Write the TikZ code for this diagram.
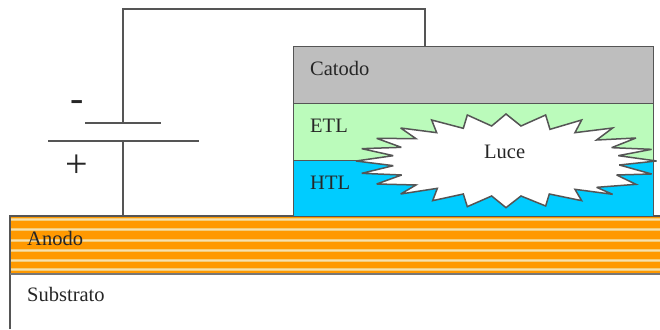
\documentclass[tikz,border=0pt]{standalone}
\usepackage{fontspec}
\setmainfont{Liberation Serif}
\definecolor{catodo}{HTML}{BEBEBE}
\definecolor{etl}{HTML}{BBFBBB}
\definecolor{htl}{HTML}{00CCFF}
\definecolor{anodo}{HTML}{FF9900}
\definecolor{riga}{HTML}{F3CC78}
\definecolor{linea}{HTML}{555555}
\tikzset{
    layer/.style={draw=linea, line width=1.4pt, minimum width=360pt, inner sep=0pt, anchor=north west},
    label/.style={font=\fontsize{20.5}{22}\selectfont, text=black!85, anchor=base west, inner sep=0pt},
    wire/.style={draw=linea, line width=1.1pt},
    sign/.style={font=\fontsize{40}{40}\selectfont, text=black!85, inner sep=0pt},
}
\begin{document}
\begin{tikzpicture}[x=1pt, y=-1pt]
    \useasboundingbox (0,0) rectangle (660,329);
    % Substrate and anode
    \fill[white] (0,0) rectangle (660,329);
    \fill[anodo] (10,216) rectangle (660,274);
    \foreach \r in {219.5,229,240,250,260,269.5} {
        \fill[riga] (10,\r-1.5) rectangle (660,\r+1.5);
        \fill[riga!60!white] (10,\r-0.4) rectangle (660,\r+0.4);
    }
    \draw[linea, line width=1.4pt] (10,329) -- (10,216) -- (660,216);
    \draw[linea!80, line width=1.2pt] (10,274) -- (660,274);
    % Layers
    \node[layer, fill=catodo, minimum height=57pt] (cat) at (293,46) {};
    \node[layer, fill=etl, minimum height=57pt] (etl) at (293,103) {};
    \node[layer, fill=htl, minimum height=56pt] (htl) at (293,160) {};
    % Light
    \begin{scope}[shift={(340,100)}, x=0.3333pt, y=-0.3333pt]
        \draw[linea, line width=1.5pt, fill=white, line join=miter, miter limit=4]
            (498,42) -- (543,78) -- (617,45) -- (630,88) -- (725,60) -- (705,98)
            -- (818,84) -- (770,120) -- (888,114) -- (815,143) -- (935,148) -- (835,167)
            -- (950,183) -- (838,195) -- (935,222) -- (830,225) -- (888,253) -- (770,262)
            -- (818,283) -- (705,268) -- (725,302) -- (628,282) -- (617,318) -- (543,288)
            -- (498,323) -- (455,288) -- (382,320) -- (370,282) -- (278,302) -- (292,265)
            -- (182,282) -- (228,255) -- (110,252) -- (185,225) -- (65,220) -- (160,197)
            -- (48,183) -- (160,167) -- (65,146) -- (184,142) -- (110,115) -- (228,116)
            -- (182,84) -- (290,98) -- (275,60) -- (370,85) -- (382,45) -- (455,78) -- cycle;
    \end{scope}
    % Labels
    \node[label] (catlab) at (310,75) {Catodo};
    \node[label] (etllab) at (310,132) {ETL};
    \node[label] (htllab) at (310,189) {HTL};
    \node[label] (luce) at (484,158.5) {Luce};
    \node[label] (anolab) at (27,245.5) {Anodo};
    \node[label] (sublab) at (27,301.5) {Substrato};
    % Battery
    \coordinate (neg) at (123,123);
    \coordinate (pos) at (123,141);
    \coordinate (top) at (425,46);
    \coordinate (anotop) at (123,216);
    \draw[wire] (neg) -- (123,9) -- (425,9) -- (top);
    \draw[wire] (pos) -- (anotop);
    \draw[wire] (85,123) -- (161,123);
    \draw[wire] (48,141) -- (199,141);
    \node[sign] (minus) at (77,106) {-};
    \node[sign] (plus) at (76.5,166) {+};
\end{tikzpicture}
\end{document}
